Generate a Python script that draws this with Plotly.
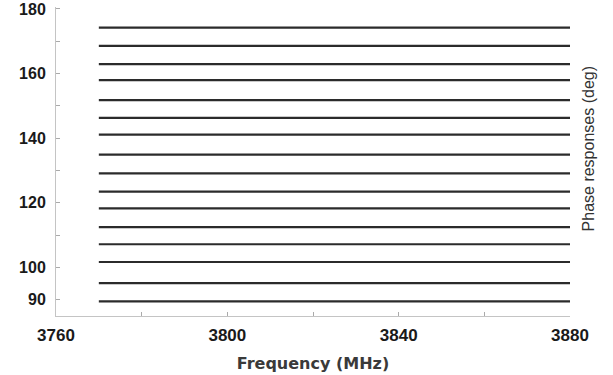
import plotly.graph_objects as go

# Frequency sweep (MHz) and phase states (deg)
freq_mhz = [3770, 3790, 3810, 3830, 3850, 3870, 3880]
phase_states = [174.2, 168.6, 162.9, 158.0, 151.8, 146.3, 141.1, 134.9,
                129.1, 123.5, 118.3, 112.5, 107.2, 101.7, 95.2, 89.5]
x_ticks = [3760, 3800, 3840, 3880]
y_ticks = [90, 100, 120, 140, 160, 180]

fig = go.Figure()
for p in phase_states:
    fig.add_trace(go.Scatter(
        x=freq_mhz, y=[p] * len(freq_mhz), mode="lines",
        line=dict(color="#2b2b2b", width=2.2), showlegend=False, hoverinfo="skip"))

fig.update_layout(
    width=613, height=375,
    margin=dict(l=56, r=43, t=7, b=59),
    paper_bgcolor="white", plot_bgcolor="white",
    font=dict(family="Liberation Sans, Arial, sans-serif", color="#222"),
    xaxis=dict(
        range=[3760, 3880], tickvals=x_ticks, automargin=False,
        ticks="inside", ticklen=4, tickcolor="#aaa",
        minor=dict(dtick=20, tick0=3760, ticks="inside", ticklen=4, tickcolor="#aaa"),
        showline=True, linecolor="#c4c4c4", linewidth=1, showgrid=False, zeroline=False,
        tickfont=dict(size=17, weight="bold", color="#1a1a1a"),
        ticklabelstandoff=4,
        title=dict(text="Frequency (MHz)", standoff=13,
                   font=dict(family="DejaVu Sans, Verdana, sans-serif", size=16,
                             weight="bold", color="#3a3a3a")),
    ),
    yaxis=dict(
        range=[85, 180.6], tickvals=y_ticks, automargin=False,
        ticks="inside", ticklen=4, tickcolor="#aaa",
        minor=dict(dtick=10, tick0=90, ticks="inside", ticklen=4, tickcolor="#aaa"),
        showline=True, linecolor="#c4c4c4", linewidth=1, showgrid=False, zeroline=False,
        tickfont=dict(size=16, weight="bold", color="#1a1a1a"),
        ticklabelstandoff=6,
    ),
    annotations=[dict(
        text="Phase responses (deg)", xref="paper", yref="paper",
        x=1.056, y=0.54, textangle=-90, showarrow=False,
        font=dict(family="Liberation Sans, Arial, sans-serif", size=16, color="#333"))],
)

fig.write_html("out.html", config={"displayModeBar": False},
               post_script="document.body.style.margin='0';")
